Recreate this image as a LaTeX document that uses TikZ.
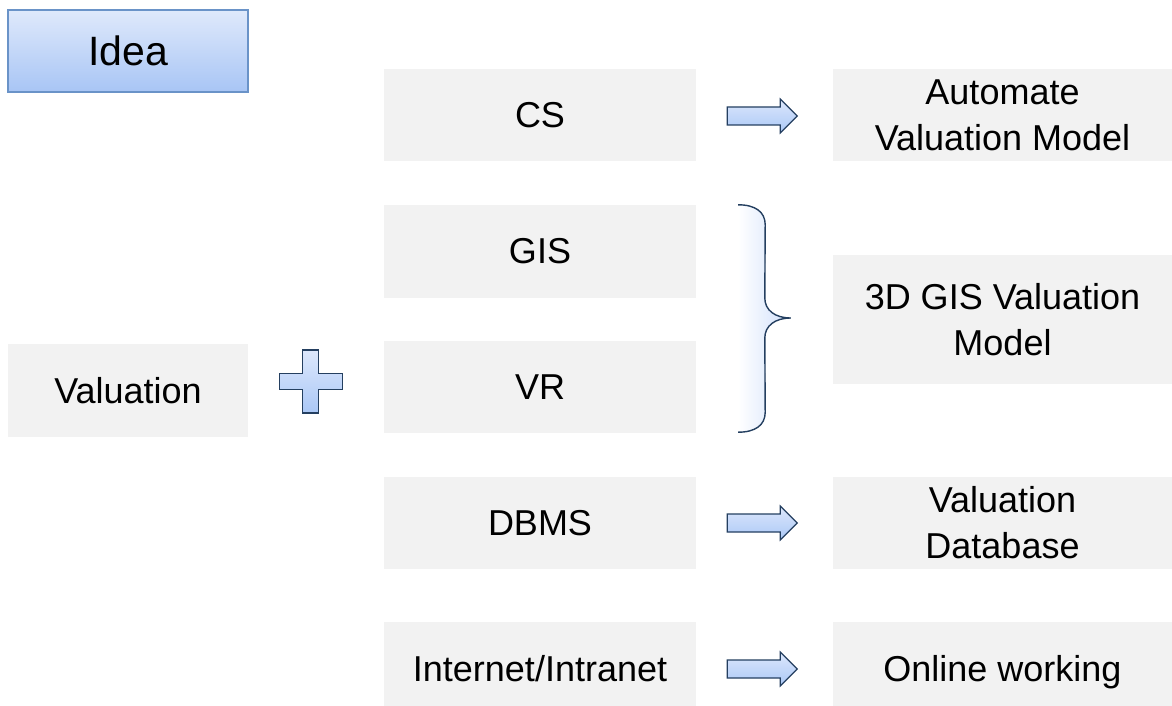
\documentclass[tikz,border=0pt]{standalone}
\usepackage{fontspec}
\setmainfont{Liberation Sans}
\usetikzlibrary{calc}
\definecolor{boxgray}{HTML}{F2F2F2}
\definecolor{ideatop}{HTML}{DFE9FB}
\definecolor{ideabot}{HTML}{A8C5F5}
\definecolor{ideaedge}{HTML}{6A93C8}
\definecolor{shapetop}{HTML}{DDE8FC}
\definecolor{shapebot}{HTML}{AAC7F6}
\definecolor{navy}{HTML}{243F60}
\definecolor{bracefill}{HTML}{CFDFFB}
\newcommand{\lowtext}[1]{\raisebox{-17.5pt}[0pt][0pt]{#1}}
\tikzset{
  graybox/.style={rectangle, fill=boxgray, inner sep=0pt, align=center,
    font=\fontsize{36}{46}\selectfont},
  leftcol/.style={graybox, minimum width=312, minimum height=92},
  rightcol/.style={graybox, minimum width=339, minimum height=92},
  ideabox/.style={rectangle, draw=ideaedge, line width=1.2pt, top color=ideatop,
    bottom color=ideabot, inner sep=0pt, minimum width=240, minimum height=82,
    font=\fontsize{41}{49}\selectfont},
  blockshape/.style={draw=navy, line width=1.2pt, top color=shapetop,
    bottom color=shapebot, line join=miter},
  bracestroke/.style={draw=navy, line width=1.4pt}
}
\begin{document}
\begin{tikzpicture}[x=1pt, y=-1pt]
\useasboundingbox (0,0) rectangle (1172,706);

% title
\node[ideabox] (idea) at (128,51) {Idea};

% left: base discipline
\node[graybox, minimum width=240, minimum height=93] (val) at (128,390.5) {Valuation};

% middle column: technologies
\node[leftcol] (cs)   at (540,115)   {CS};
\node[leftcol, minimum height=93] (gis) at (540,251.5) {GIS};
\node[leftcol] (vr)   at (540,387)   {VR};
\node[leftcol] (dbms) at (540,523)   {DBMS};
\node[leftcol, minimum height=84] (inet) at (540,664) {\lowtext{Internet/Intranet}};

% right column: outcomes
\node[rightcol] (avm)   at (1002.5,115)   {Automate\\Valuation Model};
\node[rightcol, minimum height=129] (gis3d) at (1002.5,319.5) {3D GIS Valuation\\Model};
\node[rightcol] (vdb)   at (1002.5,523)   {Valuation\\Database};
\node[rightcol, minimum height=84] (online) at (1002.5,664) {\lowtext{Online working}};

% plus sign between the discipline and the technologies
\coordinate (plus) at ($(val.east)+(62.5,-9)$);
\path[blockshape] ($(plus)+(-8,-31.5)$) -- ++(16,0) -- ++(0,23.5) -- ++(23.5,0)
  -- ++(0,16) -- ++(-23.5,0) -- ++(0,23.5) -- ++(-16,0) -- ++(0,-23.5)
  -- ++(-23.5,0) -- ++(0,-16) -- ++(23.5,0) -- cycle;

% block arrows: technology -> outcome
\path[blockshape] ($(cs.east)+(31,-8)$) -- ++(53,0) -- ++(0,-8) -- ++(17,17)
  -- ++(-17,17) -- ++(0,-8) -- ++(-53,0) -- cycle;
\path[blockshape] ($(dbms.east)+(31,-9)$) -- ++(53,0) -- ++(0,-8) -- ++(17,17)
  -- ++(-17,17) -- ++(0,-8) -- ++(-53,0) -- cycle;
\path[blockshape] ($(inet.east)+(31,-4)$) -- ++(53,0) -- ++(0,-8) -- ++(17,17)
  -- ++(-17,17) -- ++(0,-8) -- ++(-53,0) -- cycle;

% brace grouping GIS and VR
\coordinate (btop) at ($(gis.north east)+(42,0)$);
\coordinate (bbot) at ($(vr.south east)+(42,-1)$);
\coordinate (btip) at ($(gis3d.west)+(-42,-1.5)$);
\fill[left color=white, right color=bracefill]
  (btop) .. controls ++(17,0) and ++(0,-13) .. ++(27,20) -- ($(btip)+(-26,-20)$)
  .. controls ++(0,12) and ++(-16,0) .. (btip)
  .. controls ++(-16,0) and ++(0,-12) .. ($(btip)+(-26,20)$)
  -- ($(bbot)+(27,-20)$) .. controls ++(0,13) and ++(17,0) .. (bbot) -- cycle;
\draw[bracestroke]
  (btop) .. controls ++(17,0) and ++(0,-13) .. ++(27,20) -- ($(btip)+(-26,-20)$)
  .. controls ++(0,12) and ++(-16,0) .. (btip)
  .. controls ++(-16,0) and ++(0,-12) .. ($(btip)+(-26,20)$)
  -- ($(bbot)+(27,-20)$) .. controls ++(0,13) and ++(17,0) .. (bbot);
\end{tikzpicture}
\end{document}
